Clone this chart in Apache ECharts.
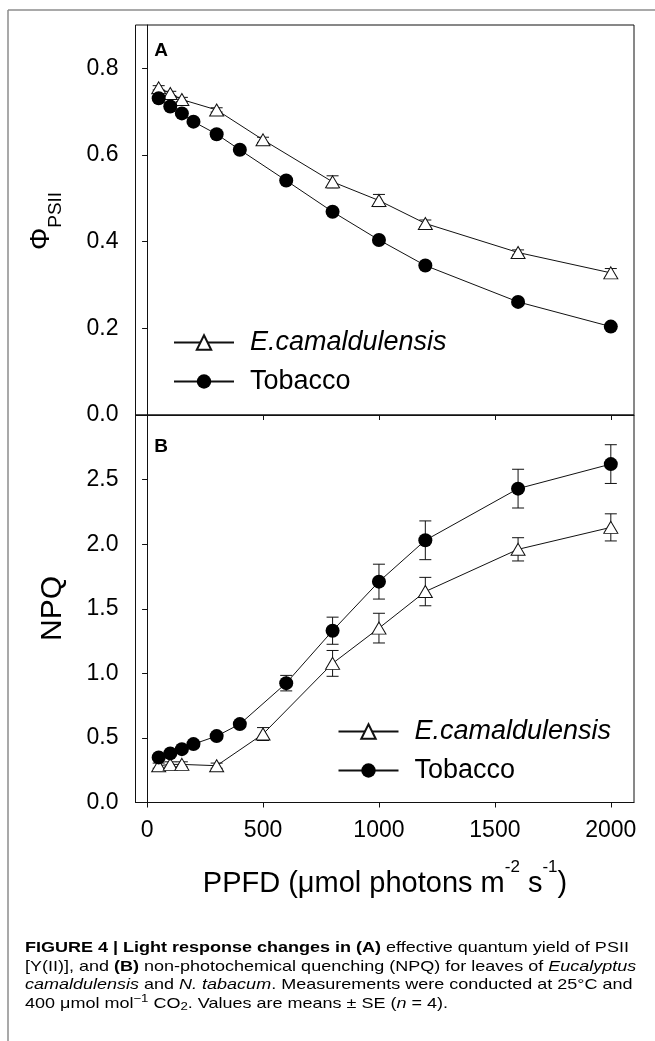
<!DOCTYPE html>
<html><head><meta charset="utf-8">
<script src="https://cdn.jsdelivr.net/npm/echarts@6/dist/echarts.min.js"></script>
<style>html,body{margin:0;padding:0;background:#fff}#c{width:655px;height:1041px}</style>
</head><body><div id="c"></div>
<script>
// ---- data ----
const xTickValues = [0, 500, 1000, 1500, 2000];
const yTicksA = [0, 0.2, 0.4, 0.6, 0.8];
const yTicksB = [0, 0.5, 1.0, 1.5, 2.0, 2.5];
const seriesNames = ['E.camaldulensis', 'Tobacco'];

const ppfdEuc = [50, 100, 150, 300, 500, 800, 1000, 1200, 1600, 2000];
const ppfdTob = [50, 100, 150, 200, 300, 400, 600, 800, 1000, 1200, 1600, 2000];

const phiEuc   = [0.755, 0.742, 0.728, 0.704, 0.635, 0.538, 0.495, 0.442, 0.375, 0.328];
const phiEucSE = [0.005, 0.005, 0.005, 0.005, 0.006, 0.014, 0.014, 0.008, 0.006, 0.010];
const phiTob   = [0.731, 0.712, 0.696, 0.677, 0.648, 0.612, 0.541, 0.469, 0.404, 0.345, 0.261, 0.204];
const phiTobSE = [0.004, 0.004, 0.004, 0.004, 0.004, 0.004, 0.004, 0.005, 0.005, 0.005, 0.005, 0.005];

const npqEuc   = [0.285, 0.295, 0.295, 0.285, 0.53, 1.077, 1.35, 1.633, 1.96, 2.13];
const npqEucSE = [0.02, 0.02, 0.02, 0.02, 0.05, 0.10, 0.115, 0.11, 0.09, 0.105];
const npqTob   = [0.349, 0.38, 0.413, 0.452, 0.514, 0.607, 0.924, 1.33, 1.71, 2.03, 2.43, 2.62];
const npqTobSE = [0.01, 0.01, 0.01, 0.01, 0.015, 0.02, 0.06, 0.105, 0.135, 0.15, 0.15, 0.15];

// ---- helpers ----
const FONT = 'Liberation Sans, Arial, sans-serif';
const pairs = (xs, ys) => xs.map((x, i) => [x, ys[i]]);
const triples = (xs, ys, es) => xs.map((x, i) => [x, ys[i], es[i]]);

function renderErr(params, api) {
  const x = api.value(0), y = api.value(1), e = api.value(2);
  const hi = api.coord([x, y + e]), lo = api.coord([x, y - e]);
  const cap = 6;
  const st = { stroke: '#111', lineWidth: 1 };
  return { type: 'group', children: [
    { type: 'line', shape: { x1: hi[0], y1: hi[1], x2: lo[0], y2: lo[1] }, style: st },
    { type: 'line', shape: { x1: hi[0] - cap, y1: hi[1], x2: hi[0] + cap, y2: hi[1] }, style: st },
    { type: 'line', shape: { x1: lo[0] - cap, y1: lo[1], x2: lo[0] + cap, y2: lo[1] }, style: st }
  ]};
}

function errSeries(name, gi, xs, ys, es) {
  return { name: name, type: 'custom', xAxisIndex: gi, yAxisIndex: gi, z: 2,
    renderItem: renderErr, encode: { x: 0, y: 1 }, data: triples(xs, ys, es), silent: true };
}
function triSeries(gi, xs, ys) {
  return { name: seriesNames[0], type: 'line', xAxisIndex: gi, yAxisIndex: gi, z: 3,
    symbol: 'triangle', symbolSize: [14, 12], showAllSymbol: true,
    itemStyle: { color: '#fff', borderColor: '#111', borderWidth: 1 },
    lineStyle: { color: '#111', width: 1 }, data: pairs(xs, ys) };
}
function dotSeries(gi, xs, ys) {
  return { name: seriesNames[1], type: 'line', xAxisIndex: gi, yAxisIndex: gi, z: 3,
    symbol: 'circle', symbolSize: 14, showAllSymbol: true,
    itemStyle: { color: '#000', borderColor: '#000', borderWidth: 0 },
    lineStyle: { color: '#111', width: 1 }, data: pairs(xs, ys) };
}

const axisLine = { show: true, lineStyle: { color: '#111', width: 1 } };
function xAxis(gi, showLabels) {
  return { type: 'value', gridIndex: gi, min: -50, max: 2100,
    axisLine: axisLine, splitLine: { show: false },
    axisTick: { show: true, inside: false, length: 5, customValues: xTickValues, lineStyle: { color: '#111' } },
    axisLabel: { show: showLabels, customValues: xTickValues, margin: 17, fontSize: 23, color: '#000', fontFamily: FONT,
      formatter: v => String(v) } };
}
function yAxis(gi, max, ticks) {
  return { type: 'value', gridIndex: gi, min: 0, max: max,
    axisLine: axisLine, splitLine: { show: false },
    axisTick: { show: true, inside: false, length: 5, customValues: ticks, lineStyle: { color: '#111' } },
    axisLabel: { show: true, customValues: ticks, margin: 17, fontSize: 23, color: '#000', fontFamily: FONT,
      formatter: v => v.toFixed(1) } };
}
function legend(left, top) {
  return { left: left, top: top, orient: 'vertical', padding: 0, itemWidth: 60, itemHeight: 18, itemGap: 12,
    selectedMode: false,
    textStyle: { fontSize: 27, color: '#000', fontFamily: FONT, padding: [0, 0, 0, 11] },
    data: [{ name: seriesNames[0], textStyle: { fontStyle: 'italic' } }, { name: seriesNames[1] }] };
}

const capRich = {
  r: { fontSize: 15, fontFamily: FONT, color: '#3a3a3a' },
  b: { fontSize: 15, fontFamily: FONT, color: '#222', fontWeight: 'bold' },
  i: { fontSize: 15, fontFamily: FONT, color: '#3a3a3a', fontStyle: 'italic' },
  sup: { fontSize: 11, fontFamily: FONT, color: '#3a3a3a', padding: [0, 0, 9, 0] },
  sub: { fontSize: 11, fontFamily: FONT, color: '#3a3a3a', padding: [7, 0, 0, 0] }
};
const capLines = [
  '{b|FIGURE 4 | Light response changes in (A)}{r| effective quantum yield of PSII}',
  '{r|[Y(II)], and }{b|(B)}{r| non-photochemical quenching (NPQ) for leaves of }{i|Eucalyptus}',
  '{i|camaldulensis}{r| and }{i|N. tabacum}{r|. Measurements were conducted at 25°C and}',
  '{r|400 μmol mol}{sup|−1}{r| CO}{sub|2}{r|. Values are means ± SE (}{i|n}{r| = 4).}'
];
const capY = [948, 966.5, 985, 1003.4];

const option = {
  animation: false,
  backgroundColor: '#fff',
  textStyle: { fontFamily: FONT },
  grid: [
    { left: 135.5, top: 25, width: 498.5, height: 390, show: true, borderColor: '#111', borderWidth: 1, backgroundColor: 'transparent' },
    { left: 135.5, top: 415, width: 498.5, height: 387.5, show: true, borderColor: '#111', borderWidth: 1, backgroundColor: 'transparent' }
  ],
  xAxis: [xAxis(0, false), xAxis(1, true)],
  yAxis: [yAxis(0, 0.9, yTicksA), yAxis(1, 3.0, yTicksB)],
  legend: [legend(173, 329), legend(337.5, 718)],
  series: [
    errSeries('errEucA', 0, ppfdEuc, phiEuc, phiEucSE),
    errSeries('errTobA', 0, ppfdTob, phiTob, phiTobSE),
    triSeries(0, ppfdEuc, phiEuc),
    dotSeries(0, ppfdTob, phiTob),
    errSeries('errEucB', 1, ppfdEuc, npqEuc, npqEucSE),
    errSeries('errTobB', 1, ppfdTob, npqTob, npqTobSE),
    triSeries(1, ppfdEuc, npqEuc),
    dotSeries(1, ppfdTob, npqTob)
  ],
  graphic: [
    // figure frame
    { type: 'line', shape: { x1: 8, y1: 10, x2: 8, y2: 1041 }, style: { stroke: '#8c8c8c', lineWidth: 1.5 }, silent: true },
    { type: 'line', shape: { x1: 8, y1: 10, x2: 655, y2: 10 }, style: { stroke: '#8c8c8c', lineWidth: 1.5 }, silent: true },
    // panel letters
    { type: 'text', x: 161, y: 51, style: { text: 'A', fontSize: 19, fontWeight: 'bold', fontFamily: FONT, fill: '#000', align: 'center', verticalAlign: 'middle' } },
    { type: 'text', x: 161, y: 447, style: { text: 'B', fontSize: 19, fontWeight: 'bold', fontFamily: FONT, fill: '#000', align: 'center', verticalAlign: 'middle' } },
    // y titles
    { type: 'text', x: 41, y: 221, rotation: Math.PI / 2, style: {
        text: '{phi|Φ}{sub|PSII}', align: 'center', verticalAlign: 'middle',
        rich: { phi: { fontSize: 28, fontFamily: FONT, color: '#000' },
                sub: { fontSize: 19, fontFamily: FONT, color: '#000', padding: [29, 0, 0, 0] } } } },
    { type: 'text', x: 53, y: 608.5, rotation: Math.PI / 2, style: {
        text: 'NPQ', fontSize: 30, fontFamily: FONT, fill: '#000', align: 'center', verticalAlign: 'middle' } },
    // x title
    { type: 'text', x: 385, y: 884, style: {
        text: '{m|PPFD (μmol photons m}{sup|-2}{m| s}{sup|-1}{m|)}', align: 'center', verticalAlign: 'middle',
        rich: { m: { fontSize: 29, fontFamily: FONT, color: '#000' },
                sup: { fontSize: 17, fontFamily: FONT, color: '#000', padding: [0, 0, 34, 0] } } } }
  ].concat(capLines.map((t, i) => ({
    type: 'text', x: 25, y: capY[i], scaleX: 1.2, style: { text: t, rich: capRich, align: 'left', verticalAlign: 'middle' }
  })))
};

const chart = echarts.init(document.getElementById('c'), null, { renderer: 'canvas' });
chart.setOption(option);
</script>
</body></html>
